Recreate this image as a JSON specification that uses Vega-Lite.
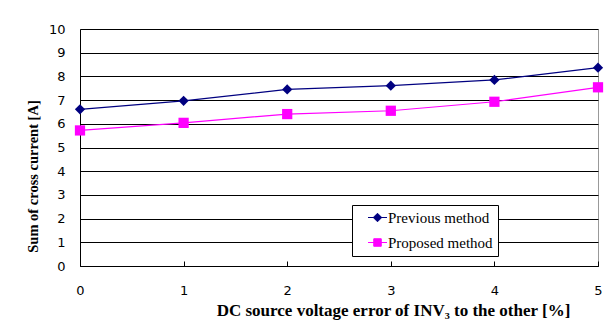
{
  "$schema": "https://vega.github.io/schema/vega-lite/v6.json",
  "width": 518,
  "height": 237,
  "autosize": "none",
  "padding": {"left": 80, "top": 29, "right": 16, "bottom": 59},
  "background": "white",
  "data": {
    "values": [
      {"error": 0, "method": "Previous method", "current": 6.61},
      {"error": 1, "method": "Previous method", "current": 6.97},
      {"error": 2, "method": "Previous method", "current": 7.45},
      {"error": 3, "method": "Previous method", "current": 7.61},
      {"error": 4, "method": "Previous method", "current": 7.85},
      {"error": 5, "method": "Previous method", "current": 8.37},
      {"error": 0, "method": "Proposed method", "current": 5.72},
      {"error": 1, "method": "Proposed method", "current": 6.04},
      {"error": 2, "method": "Proposed method", "current": 6.41},
      {"error": 3, "method": "Proposed method", "current": 6.55},
      {"error": 4, "method": "Proposed method", "current": 6.93},
      {"error": 5, "method": "Proposed method", "current": 7.54}
    ]
  },
  "encoding": {
    "x": {
      "field": "error",
      "type": "quantitative",
      "scale": {"domain": [0, 5], "nice": false, "zero": false},
      "axis": {
        "title": "DC source voltage error of INV₃ to the other [%]",
        "values": [0, 1, 2, 3, 4, 5],
        "format": "d",
        "grid": false,
        "domainColor": "black",
        "tickColor": "black",
        "tickSize": -5,
        "labelPadding": 23,
        "labelFlush": false,
        "labelFont": "DejaVu Sans",
        "labelFontSize": 13,
        "labelColor": "black",
        "titleFont": "Liberation Serif",
        "titleFontSize": 17,
        "titleFontWeight": "bold",
        "titleColor": "black",
        "titleX": 313,
        "titleY": 49,
        "titleAlign": "center",
        "titleBaseline": "alphabetic"
      }
    },
    "y": {
      "field": "current",
      "type": "quantitative",
      "scale": {"domain": [0, 10], "nice": false},
      "axis": {
        "title": "Sum of cross current [A]",
        "values": [0, 1, 2, 3, 4, 5, 6, 7, 8, 9, 10],
        "grid": true,
        "gridColor": "black",
        "gridOpacity": 1,
        "gridWidth": 1,
        "domainColor": "black",
        "ticks": false,
        "labelPadding": 15,
        "labelFlush": false,
        "labelFont": "DejaVu Sans",
        "labelFontSize": 13,
        "labelColor": "black",
        "titleFont": "Liberation Serif",
        "titleFontSize": 14.5,
        "titleFontWeight": "bold",
        "titleColor": "black",
        "titleX": -43,
        "titleY": 147,
        "titleAngle": -90,
        "titleAlign": "center",
        "titleBaseline": "alphabetic"
      }
    }
  },
  "layer": [
    {
      "mark": {"type": "point", "filled": true, "opacity": 0, "strokeWidth": 1, "size": 100},
      "encoding": {
        "color": {
          "field": "method",
          "type": "nominal",
          "scale": {"domain": ["Previous method", "Proposed method"], "range": ["#000080", "#ff00ff"]},
          "legend": {
            "orient": "none",
            "legendX": 272,
            "legendY": 176,
            "title": null,
            "strokeColor": "black",
            "fillColor": "white",
            "padding": 5,
            "labelFont": "Liberation Serif",
            "labelFontSize": 15,
            "labelColor": "black",
            "symbolSize": 100,
            "symbolOffset": 13,
            "labelOffset": 3,
            "rowPadding": 9,
            "symbolStrokeWidth": 1,
            "symbolOpacity": 1
          }
        },
        "shape": {
          "field": "method",
          "type": "nominal",
          "scale": {
            "domain": ["Previous method", "Proposed method"],
            "range": [
              "M-1.9,0L1.9,0M0,-0.85L0.85,0L0,0.85L-0.85,0Z",
              "M-1.9,0L1.9,0M-0.75,-0.75L0.75,-0.75L0.75,0.75L-0.75,0.75Z"
            ]
          },
          "legend": {"title": null}
        },
        "stroke": {
          "field": "method",
          "type": "nominal",
          "scale": {"domain": ["Previous method", "Proposed method"], "range": ["#000080", "#ff00ff"]},
          "legend": {"title": null}
        }
      }
    },
    {
      "mark": {"type": "line", "strokeWidth": 1.2},
      "encoding": {
        "color": {"field": "method", "type": "nominal"}
      }
    },
    {
      "transform": [{"filter": "datum.method === 'Previous method'"}],
      "mark": {"type": "point", "filled": true, "opacity": 1, "size": 105, "shape": "diamond"},
      "encoding": {
        "color": {"field": "method", "type": "nominal"}
      }
    },
    {
      "transform": [{"filter": "datum.method === 'Proposed method'"}],
      "mark": {"type": "point", "filled": true, "opacity": 1, "size": 105, "shape": "square"},
      "encoding": {
        "color": {"field": "method", "type": "nominal"}
      }
    }
  ],
  "config": {
    "view": {"stroke": "#999999", "strokeWidth": 1}
  }
}
